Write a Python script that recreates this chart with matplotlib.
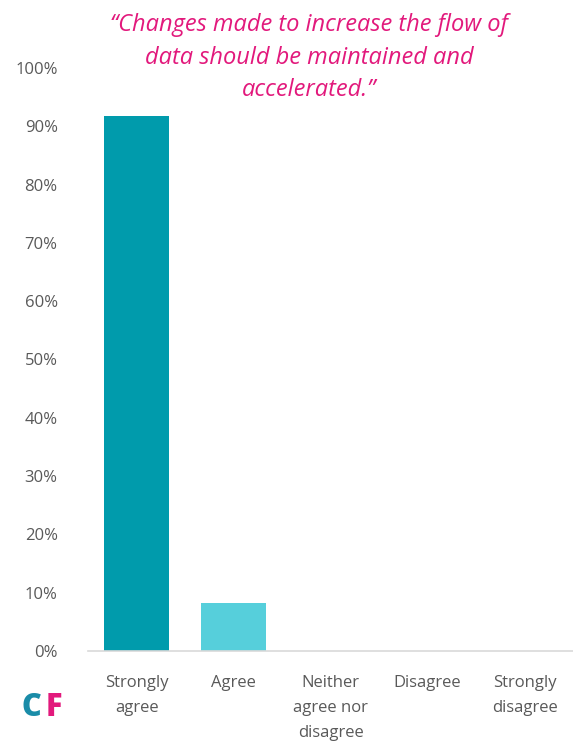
import numpy as np
import matplotlib.pyplot as plt

categories = ['Strongly\nagree', 'Agree', 'Neither\nagree nor\ndisagree', 'Disagree', 'Strongly\ndisagree']
values = [91.7, 8.3, 0, 0, 0]
colors = ['#009BAC', '#56CFDB', '#56CFDB', '#56CFDB', '#56CFDB']
yticks = np.arange(0, 101, 10)

plt.rcParams['font.family'] = ['Open Sans', 'DejaVu Sans']

fig = plt.figure(figsize=(5.73, 7.47), dpi=100)
ax = fig.add_axes([0.154, 0.1285, 0.846, 0.7805])

x = np.arange(len(categories))
ax.bar(x, values, width=0.67, color=colors)
ax.set_xlim(-0.5, len(categories) - 0.5)
ax.set_ylim(0, 100)
ax.set_yticks(yticks)
ax.set_yticklabels([f'{v}%' for v in yticks])
ax.set_xticks(x)
ax.set_xticklabels(categories, linespacing=1.75)

for s in ['top', 'right', 'left']:
    ax.spines[s].set_visible(False)
ax.spines['bottom'].set_color('#D9D9D9')
ax.spines['bottom'].set_linewidth(1.2)
ax.tick_params(axis='y', length=0, labelsize=12, colors='#595959', pad=22)
ax.tick_params(axis='x', length=0, labelsize=12, colors='#595959', pad=17)

fig.text(0.54, 0.982, '\u201cChanges made to increase the flow of\ndata should be maintained and\naccelerated.\u201d',
         ha='center', va='top', fontsize=17, style='italic', color='#E2197C', linespacing=1.45)

# logo
fig.text(0.038, 0.052, 'C', fontsize=22, fontweight='heavy', color='#1A8CA8', ha='left', va='center')
fig.text(0.08, 0.052, 'F', fontsize=22, fontweight='heavy', color='#E2197C', ha='left', va='center')

plt.savefig('out.png', dpi=100)
